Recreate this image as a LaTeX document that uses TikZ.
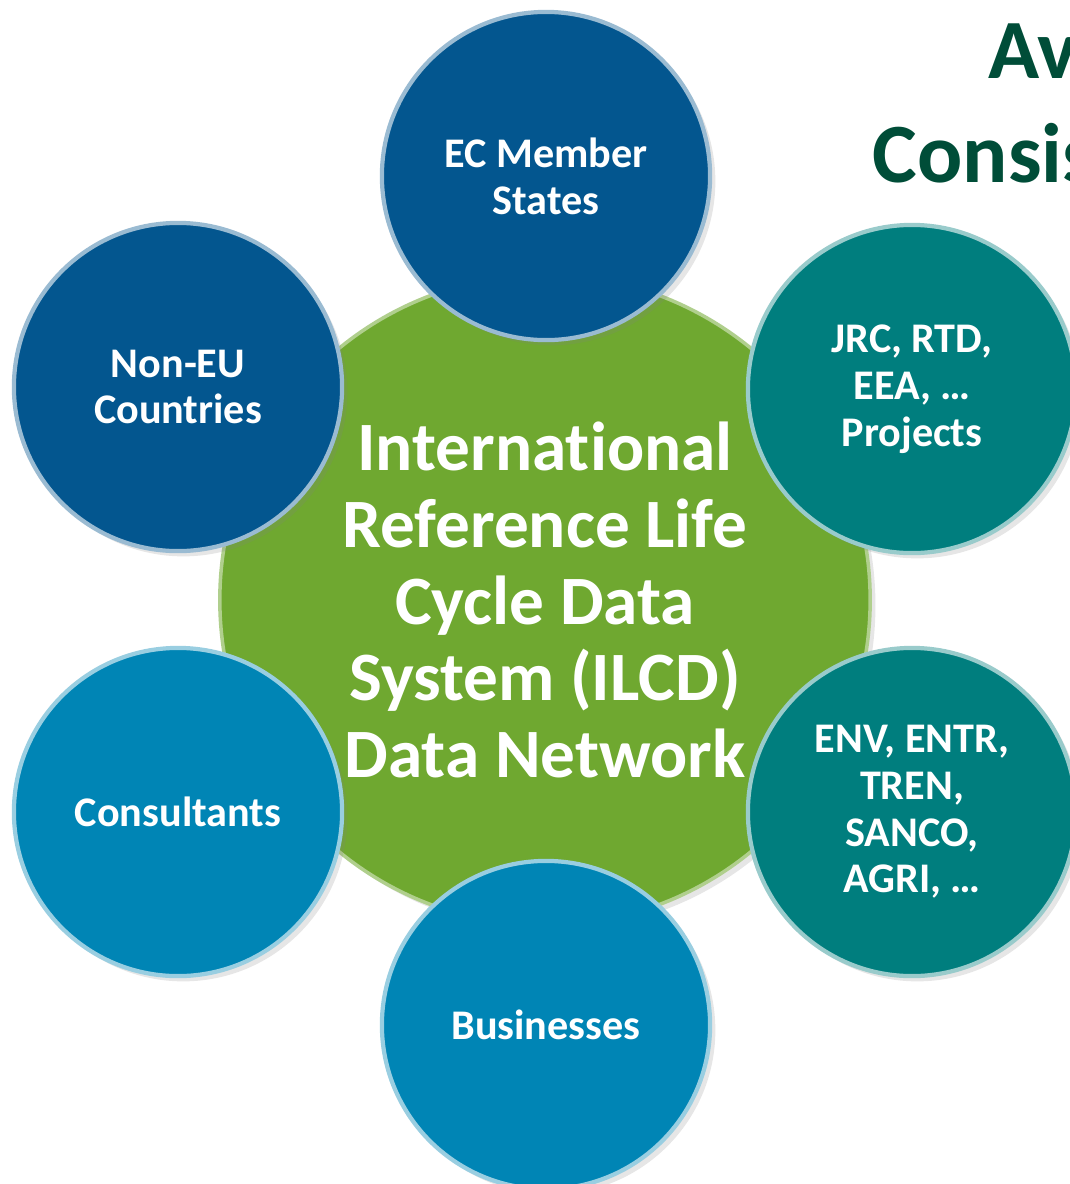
\documentclass[tikz,border=0pt]{standalone}
\usepackage{fontspec}
\setmainfont{Carlito}[Ligatures=NoCommon]
\usetikzlibrary{shadows}
\definecolor{hubgreen}{HTML}{6FA830}
\definecolor{memberblue}{HTML}{03568F}
\definecolor{agencyteal}{HTML}{007E7E}
\definecolor{marketblue}{HTML}{0085B5}
\definecolor{titlegreen}{HTML}{004D38}
\begin{document}
\begin{tikzpicture}[x=0.01cm,y=-0.01cm,
  hub/.style={circle, minimum size=6.5cm, inner sep=0pt, align=center,
    fill=hubgreen, draw=hubgreen!55!white, line width=1pt, text=white,
    font=\bfseries\fontsize{19.7}{21.8}\selectfont,
    drop shadow={opacity=0.2, shadow xshift=1.5pt, shadow yshift=-1.5pt}},
  bubble/.style={circle, minimum size=3.28cm, inner sep=0pt, align=center,
    fill=#1, draw=#1!40!white, line width=1.2pt, text=white,
    font=\bfseries\fontsize{12}{13.3}\selectfont,
    drop shadow={opacity=0.2, shadow xshift=1.5pt, shadow yshift=-1.5pt}},
  title/.style={anchor=base west, inner sep=0pt, text=titlegreen,
    font=\bfseries\fontsize{24}{29}\selectfont}]
\useasboundingbox (0,0) rectangle (1070,1184);
\clip (0,0) rectangle (1070,1184);

\node[title] (avail) at (988,78) {Av};
\node[title] (consist) at (872,182) {Consis};

\node[hub] (ilcd) at (545,600) {International\\Reference Life\\Cycle Data\\System (ILCD)\\Data Network};

\node[bubble=memberblue] (states) at (546,176) {EC Member\\States};
\node[bubble=memberblue] (noneu) at (178,387) {Non-EU\\Countries};
\node[bubble=agencyteal] (jrc) at (912,389) {JRC, RTD,\\EEA, \dots\\Projects};
\node[bubble=marketblue] (consult) at (178,812) {Consultants};
\node[bubble=agencyteal] (dgs) at (912,812) {ENV, ENTR,\\TREN,\\SANCO,\\AGRI, \dots};
\node[bubble=marketblue] (business) at (546,1025) {Businesses};
\end{tikzpicture}
\end{document}
